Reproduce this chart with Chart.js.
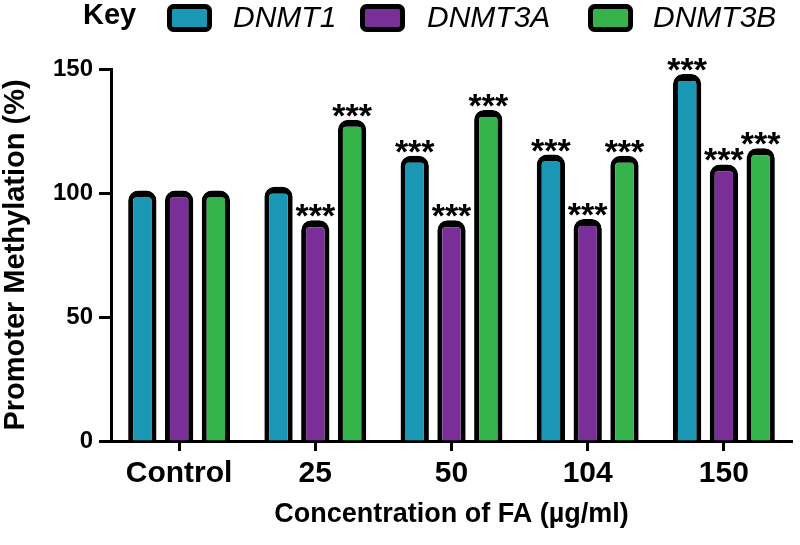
<!DOCTYPE html>
<html>
<head>
<meta charset="utf-8">
<script src="https://cdn.jsdelivr.net/npm/chart.js@4.4.1/dist/chart.umd.min.js"></script>
<style>
  html, body { margin: 0; padding: 0; background: #fff; }
  #wrap { position: relative; width: 800px; height: 545px; }
</style>
</head>
<body>
<div id="wrap"><canvas id="chart" width="800" height="545"></canvas></div>
<script>
// Data (bar tops)
const categories = ['Control', '25', '50', '104', '150'];
const seriesNames = ['DNMT1', 'DNMT3A', 'DNMT3B'];
const dnmt1 = [101, 102.5, 115, 115.5, 148];
const dnmt3a = [101, 89, 89, 89.5, 111.5];
const dnmt3b = [101, 129.5, 133.5, 115, 118];
const dnmt1Stars = ['', '', '***', '***', '***'];
const dnmt3aStars = ['', '***', '***', '***', '***'];
const dnmt3bStars = ['', '***', '***', '***', '***'];
const yTicks = [0, 50, 100, 150];

const colors = ['#1b97b6', '#7a2e98', '#34b44b'];
const FONT = "'Liberation Sans', Arial, sans-serif";

// Draws the "***" marks above the bars
const starsPlugin = {
  id: 'stars',
  afterDatasetsDraw(chart) {
    const { ctx } = chart;
    ctx.save();
    ctx.fillStyle = '#000';
    ctx.font = 'bold 34px ' + FONT;
    ctx.textAlign = 'center';
    ctx.textBaseline = 'alphabetic';
    chart.data.datasets.forEach((ds, i) => {
      const meta = chart.getDatasetMeta(i);
      meta.data.forEach((bar, j) => {
        const s = ds.stars[j];
        if (s) ctx.fillText(s, bar.x, bar.y + 7);
      });
    });
    ctx.restore();
  },
};

// "Key" legend at the top of the figure
const keyPlugin = {
  id: 'keyLegend',
  afterDraw(chart) {
    const { ctx } = chart;
    const boxes = [167, 360, 588];
    const texts = [233, 427, 653];
    ctx.save();
    ctx.fillStyle = '#000';
    ctx.textBaseline = 'alphabetic';
    ctx.textAlign = 'left';
    ctx.font = 'bold 29px ' + FONT;
    ctx.fillText('Key', 83, 24);
    chart.data.datasets.forEach((ds, i) => {
      ctx.beginPath();
      ctx.roundRect(boxes[i] + 2.5, 6.5, 40, 23, 4);
      ctx.fillStyle = ds.backgroundColor;
      ctx.fill();
      ctx.lineWidth = 5;
      ctx.strokeStyle = '#000';
      ctx.stroke();
      ctx.fillStyle = '#000';
      ctx.font = 'italic 30px ' + FONT;
      ctx.fillText(ds.label, texts[i], 27);
    });
    ctx.restore();
  },
};

function makeSet(i, values, stars) {
  return {
    label: seriesNames[i],
    data: values,
    stars: stars,
    backgroundColor: colors[i],
    borderColor: '#000',
    borderWidth: { top: 7, left: 5, right: 5, bottom: 0 },
    borderRadius: { topLeft: 10, topRight: 10, bottomLeft: 0, bottomRight: 0 },
    borderSkipped: 'start',
    barPercentage: 0.77,
    categoryPercentage: 0.81,
  };
}

new Chart(document.getElementById('chart'), {
  type: 'bar',
  data: {
    labels: categories,
    datasets: [
      makeSet(0, dnmt1, dnmt1Stars),
      makeSet(1, dnmt3a, dnmt3aStars),
      makeSet(2, dnmt3b, dnmt3bStars),
    ],
  },
  options: {
    responsive: false,
    animation: false,
    layout: { padding: { top: 69, right: 8, left: 0, bottom: 0 } },
    plugins: {
      legend: { display: false },
      tooltip: { enabled: false },
    },
    scales: {
      x: {
        afterFit(scale) { scale.height = 104; },
        grid: {
          offset: false,
          drawOnChartArea: false,
          tickLength: 10,
          tickWidth: 3,
          tickColor: '#000',
        },
        border: { color: '#000', width: 3 },
        ticks: {
          color: '#000',
          padding: 5,
          font: { family: FONT, size: 30, weight: 'bold' },
        },
        title: {
          display: true,
          text: 'Concentration of FA (µg/ml)',
          color: '#000',
          font: { family: FONT, size: 27, weight: 'bold' },
          padding: { top: 0, bottom: 14 },
        },
      },
      y: {
        min: 0,
        max: 150,
        afterFit(scale) { scale.width = 111; },
        afterBuildTicks(scale) { scale.ticks = yTicks.map((v) => ({ value: v })); },
        grid: {
          drawOnChartArea: false,
          tickLength: 12,
          tickWidth: 3,
          tickColor: '#000',
        },
        border: { color: '#000', width: 3 },
        ticks: {
          color: '#000',
          padding: 6,
          font: { family: FONT, size: 24, weight: 'bold' },
        },
        title: {
          display: true,
          text: 'Promoter Methylation (%)',
          color: '#000',
          font: { family: FONT, size: 29, weight: 'bold', lineHeight: 1.1 },
          padding: { top: 0, bottom: 0 },
        },
      },
    },
  },
  plugins: [starsPlugin, keyPlugin],
});
</script>
</body>
</html>
